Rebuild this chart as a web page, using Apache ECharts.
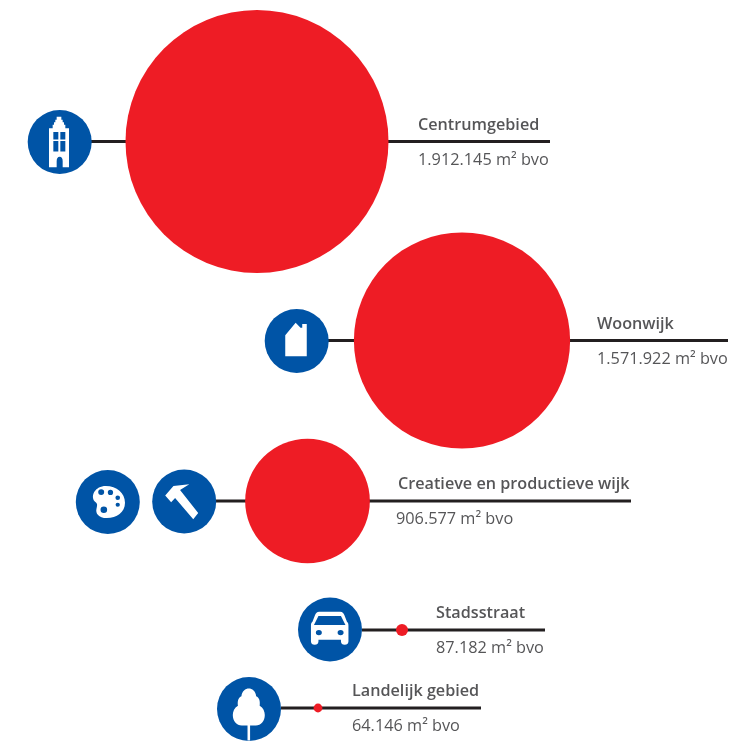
<!DOCTYPE html>
<html><head><meta charset="utf-8">
<style>html,body{margin:0;padding:0;background:#fff}#c{width:731px;height:742px}</style>
<script src="https://cdn.jsdelivr.net/npm/echarts@6/dist/echarts.min.js"></script>
</head><body><div id="c"></div>
<script>
// data
const categories = ['Centrumgebied','Woonwijk','Creatieve en productieve wijk','Stadsstraat','Landelijk gebied'];
const bvoValues = [1912145,1571922,906577,87182,64146];
const valueLabels = ['1.912.145 m² bvo','1.571.922 m² bvo','906.577 m² bvo','87.182 m² bvo','64.146 m² bvo'];
// layout (axis units of the page-sized hidden axes)
const bubbleX = [257,462,307.5,402,318];
const rowY = [141.5,340.5,501,630,708];
const lineFrom = [91,328,216,362,281];
const lineTo = [550,728,631,545,481];
const nameX = [418,597,398,436,352];
const valueX = [418,597,396,436,352];
const nameY = [125,324,484.5,613,691.5];
const valueY = [160,359,519,648,726];
const DIAMETER_PER_BVO = 263/1912145;
const BLUE='#0054a6', RED='#ee1c25', INK='#231f20', TXT='#2b2b2d';
const G = {
 tower:{s:[20,50.5],p:'path://M23 0H37V6H41V11H45V16H49V23H60V100H41V88A9 9 0 0 0 23 88V100H0V23H11V16H15V11H19V6H23ZM13 30V45H28V30ZM34 30V45H49V30ZM13 48V69H28V48ZM34 48V69H49V48Z'},
 house:{s:[21.5,33.5],p:'path://M0 100V37L30 0L44 15H49V4H62V100Z'},
 palette:{s:[32,32],p:'path://M42 0C75 0 100 22 100 52C100 82 75 100 45 100C20 100 10 85 14 70C18 55 15 55 8 48C-5 30 10 0 42 0ZM28 10A9 9 0 1 0 28.1 10ZM56 12A8 8 0 1 0 56.1 12ZM78 30A7 7 0 1 0 78.1 30ZM78 52A6.5 6.5 0 1 0 78.1 52ZM36 64A10 10 0 1 0 36.1 64Z'},
 hammer:{s:[33,35],p:'path://M0 34L25 8L73 3L45 19L100 83L85 100L30 41L18 53Z'},
 car:{s:[37.5,33],p:'path://M22 0H78C84 0 87 4 89 10L96 30C99 33 100 36 100 42V85V90C100 96 96 100 90 100C84 100 80 96 80 90V85H20V90C20 96 16 100 10 100C4 100 0 96 0 90V42C0 36 1 33 4 30L11 10C13 4 16 0 22 0ZM20 13L8 40H92L80 13ZM21 55A8 8 0 1 0 21.1 55ZM79 55A8 8 0 1 0 79.1 55Z'},
 tree:{s:[32,52],p:'path://M50 0C60 0 72 5 73 15C82 17 86 24 84 33C95 37 100 44 100 51C100 63 88 71 72 71H54V100H46V71H28C12 71 0 63 0 51C0 44 5 37 16 33C14 24 18 17 27 15C28 5 40 0 50 0Z'}
};
const iconX=[59.7,296.7,107.8,184.2,330,249];
const iconY=[142,341,502,501.5,629.5,709];
const iconG=['tower','house','palette','hammer','car','tree'];
const glyphX=[59,296,109,181.7,329.7,248.8];
const glyphY=[142,339.5,502,501.7,628.3,714.5];

const series=[];
rowY.forEach((y,i)=>series.push({type:'line',silent:true,symbol:'none',z:1,animation:false,
  data:[[lineFrom[i],y],[lineTo[i],y]],lineStyle:{color:INK,width:3}}));
series.push({type:'scatter',silent:true,z:2,animation:false,clip:false,
  data:bvoValues.map((v,i)=>({name:categories[i],value:[bubbleX[i],rowY[i],v]})),
  symbolSize:d=>d[2]*DIAMETER_PER_BVO,itemStyle:{color:RED,opacity:1}});
series.push({type:'scatter',silent:true,z:3,animation:false,clip:false,
  data:iconX.map((x,i)=>[x,iconY[i]]),symbolSize:64,itemStyle:{color:BLUE,opacity:1}});
iconG.forEach((k,i)=>series.push({type:'scatter',silent:true,z:4,animation:false,clip:false,
  data:[[glyphX[i],glyphY[i]]],symbol:G[k].p,symbolKeepAspect:false,symbolSize:G[k].s,itemStyle:{color:'#fff',opacity:1}}));
const textSeries=(xs,ys,txt,weight,size)=>({type:'scatter',silent:true,z:5,animation:false,clip:false,symbolSize:1,
  itemStyle:{color:'transparent'},
  data:xs.map((x,i)=>({value:[x,ys[i]],name:txt[i]})),
  label:{show:true,position:'inside',align:'left',verticalAlign:'middle',formatter:p=>p.name,
    color:TXT,fontFamily:'Open Sans',fontSize:size,fontWeight:weight}});
series.push(textSeries(nameX,nameY,categories,600,16.2));
series.push(textSeries(valueX,valueY,valueLabels,'normal',16.3));

echarts.init(document.getElementById('c')).setOption({
  animation:false,
  grid:{left:0,right:0,top:0,bottom:0},
  xAxis:{type:'value',min:0,max:731,show:false},
  yAxis:{type:'value',min:0,max:742,inverse:true,show:false},
  series
});
</script></body></html>
